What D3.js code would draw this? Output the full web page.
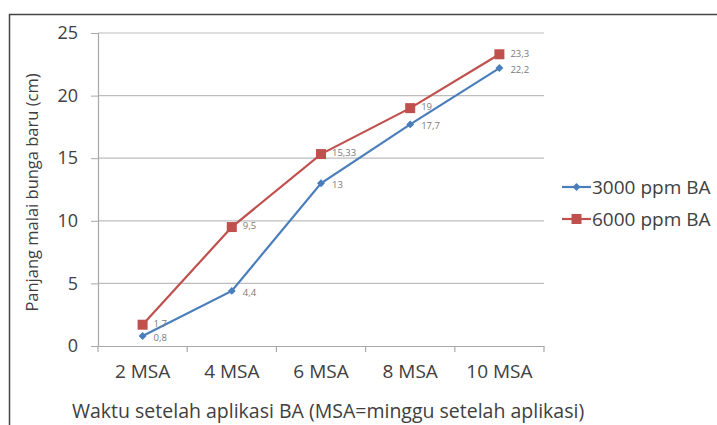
<!DOCTYPE html>
<meta charset="utf-8">
<script src="https://d3js.org/d3.v7.min.js"></script>
<style>
  body { margin: 0; background: #fff; }
  text { font-family: "Open Sans", Lato, sans-serif; }
</style>
<div id="chart"></div>
<script>
    // data
    const categories = ["2 MSA", "4 MSA", "6 MSA", "8 MSA", "10 MSA"];
    const series3000 = [0.8, 4.4, 13, 17.7, 22.2];
    const series6000 = [1.7, 9.5, 15.33, 19, 23.3];
    const yTicks = [0, 5, 10, 15, 20, 25];
    const seriesNames = ["3000 ppm BA", "6000 ppm BA"];

    const W = 717, H = 425;
    const margin = {top: 33, right: 173, bottom: 79, left: 98};
    const width = W - margin.left - margin.right,
        height = H - margin.top - margin.bottom;

    const svg = d3.select("#chart")
        .append("svg")
        .attr("width", W)
        .attr("height", H);

    // outer border (only top and left visible)
    svg.append("path")
        .attr("d", `M9.5,${H} V14.5 H${W}`)
        .attr("fill", "none")
        .attr("stroke", "#444")
        .attr("stroke-width", 1.5);

    const g = svg.append("g")
        .attr("transform", `translate(${margin.left}, ${margin.top})`);

    const x = d3.scaleBand()
        .domain(categories)
        .range([0, width]);

    const y = d3.scaleLinear()
        .domain([0, 25])
        .range([height, 0]);

    // gridlines
    g.selectAll(".grid")
        .data(yTicks.slice(1))
        .join("line")
        .attr("x1", 0)
        .attr("x2", width)
        .attr("y1", d => y(d))
        .attr("y2", d => y(d))
        .attr("stroke", "#bdbdbd")
        .attr("stroke-width", 1.2);

    // y axis
    const yAxis = g.append("g")
        .call(d3.axisLeft(y).tickValues(yTicks).tickSize(7).tickPadding(13));
    yAxis.select(".domain").attr("stroke", "#a8a8a8").attr("stroke-width", 1.2);
    yAxis.selectAll(".tick line").attr("stroke", "#a8a8a8");
    yAxis.selectAll("text")
        .attr("font-size", 18)
        .attr("fill", "#404040");

    // x axis
    const xAxis = g.append("g")
        .attr("transform", `translate(0, ${height})`)
        .call(d3.axisBottom(x).tickSize(0).tickPadding(19));
    xAxis.select(".domain").attr("stroke", "#a8a8a8").attr("stroke-width", 1.2);
    xAxis.selectAll("text")
        .attr("font-size", 19)
        .attr("fill", "#404040");

    // x tick marks at band edges
    const edges = categories.map(c => x(c)).concat([width]);
    g.selectAll(".xtick")
        .data(edges)
        .join("line")
        .attr("x1", d => d)
        .attr("x2", d => d)
        .attr("y1", height)
        .attr("y2", height + 6)
        .attr("stroke", "#a8a8a8")
        .attr("stroke-width", 1.2);

    const cx = c => x(c) + x.bandwidth() / 2;
    const fmt = v => String(v).replace(".", ",");

    const line = d3.line()
        .x((d, i) => cx(categories[i]))
        .y(d => y(d));

    // 6000 series
    g.append("path")
        .datum(series6000)
        .attr("fill", "none")
        .attr("stroke", "#c0504d")
        .attr("stroke-width", 2.2)
        .attr("d", line);

    // 3000 series
    g.append("path")
        .datum(series3000)
        .attr("fill", "none")
        .attr("stroke", "#4a7ebb")
        .attr("stroke-width", 2.2)
        .attr("d", line);

    g.selectAll(".sq")
        .data(series6000)
        .join("rect")
        .attr("x", (d, i) => cx(categories[i]) - 5)
        .attr("y", d => y(d) - 5)
        .attr("width", 10)
        .attr("height", 10)
        .attr("fill", "#c0504d");

    g.selectAll(".dm")
        .data(series3000)
        .join("path")
        .attr("d", d3.symbol().type(d3.symbolDiamond2).size(40))
        .attr("transform", (d, i) => `translate(${cx(categories[i])}, ${y(d)})`)
        .attr("fill", "#4a7ebb");

    // data labels
    g.selectAll(".lb6")
        .data(series6000)
        .join("text")
        .attr("x", (d, i) => cx(categories[i]) + 11)
        .attr("y", d => y(d) - 1)
        .attr("dy", "0.35em")
        .attr("font-size", 9.5)
        .attr("fill", "#7a7a7a")
        .text(d => fmt(d));

    g.selectAll(".lb3")
        .data(series3000)
        .join("text")
        .attr("x", (d, i) => cx(categories[i]) + 11)
        .attr("y", d => y(d) + 1.5)
        .attr("dy", "0.35em")
        .attr("font-size", 9.5)
        .attr("fill", "#7a7a7a")
        .text(d => fmt(d));

    // axis titles
    svg.append("text")
        .attr("transform", `translate(38, ${margin.top + height / 2 + 3}) rotate(-90)`)
        .attr("text-anchor", "middle")
        .attr("font-size", 16.5)
        .attr("fill", "#404040")
        .text("Panjang malai bunga baru (cm)");

    svg.append("text")
        .attr("x", 72)
        .attr("y", 418)
        .attr("font-size", 19.5)
        .attr("fill", "#404040")
        .text("Waktu setelah aplikasi BA (MSA=minggu setelah aplikasi)");

    // legend
    const legend = svg.append("g").attr("transform", "translate(562, 187)");
    const colors = ["#4a7ebb", "#c0504d"];
    seriesNames.forEach((name, i) => {
        const row = legend.append("g").attr("transform", `translate(0, ${i * 32})`);
        row.append("line")
            .attr("x1", 0).attr("x2", 29)
            .attr("stroke", colors[i]).attr("stroke-width", 2.2);
        if (i === 0) {
            row.append("path")
                .attr("d", d3.symbol().type(d3.symbolDiamond2).size(40))
                .attr("transform", "translate(14.5, 0)")
                .attr("fill", colors[i]);
        } else {
            row.append("rect")
                .attr("x", 9.5).attr("y", -5).attr("width", 10).attr("height", 10)
                .attr("fill", colors[i]);
        }
        row.append("text")
            .attr("x", 30)
            .attr("dy", "0.35em")
            .attr("font-size", 19)
            .attr("fill", "#404040")
            .text(name);
    });
</script>
